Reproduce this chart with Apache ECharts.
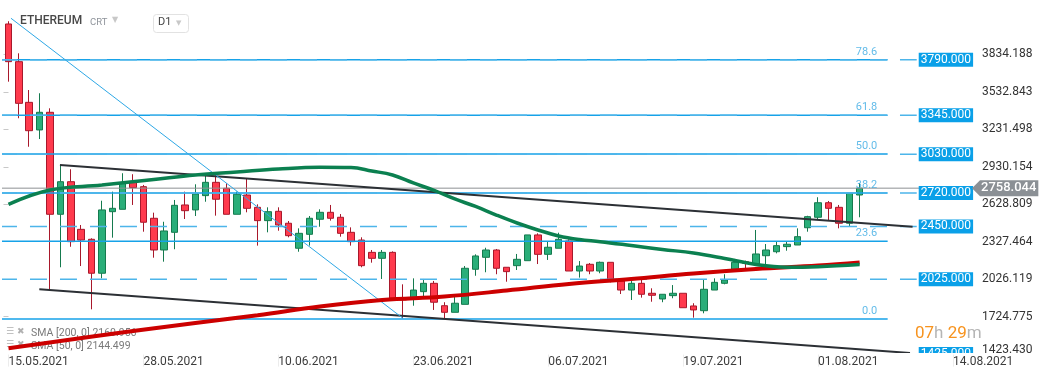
<!DOCTYPE html>
<html>
<head>
<meta charset="utf-8">
<script src="https://cdn.jsdelivr.net/npm/echarts@6/dist/echarts.min.js"></script>
<style>
html,body{margin:0;padding:0;background:#fff;}
#chart{width:1041px;height:379px;}
</style>
</head>
<body>
<div id="chart"></div>
<script>
// ---------- DATA ----------
const FIRST_DAY = [2021, 4, 15];   // 15.05.2021 (month 0-based)
const DAY_COUNT = 94;              // days shown on the axis
const xLabelStep = 13;

// daily candles: [open, close, low, high]
const candles = [
 [4078,3775,3614,4100],[3775,3440,3320,3842],[3448,3220,3091,3547],[3226,3368,3153,3521],
 [3368,2548,1945,3400],[2548,2810,2122,2944],[2810,2328,2287,2910],[2427,2341,2132,2462],
 [2347,2074,1784,2355],[2074,2583,2033,2657],[2569,2596,2360,2730],[2588,2797,2588,2878],
 [2805,2762,2623,2870],[2770,2484,2408,2784],[2516,2261,2199,2561],[2261,2414,2167,2488],
 [2403,2620,2267,2663],[2623,2577,2510,2730],[2583,2711,2534,2789],[2698,2805,2649,2858],
 [2805,2669,2537,2877],[2757,2548,2548,2797],[2548,2709,2548,2730],[2703,2596,2564,2837],
 [2604,2497,2296,2628],[2497,2569,2403,2604],[2572,2462,2416,2604],[2476,2376,2363,2494],
 [2275,2395,2247,2435],[2387,2516,2296,2534],[2508,2564,2448,2588],[2564,2516,2497,2623],
 [2524,2395,2368,2550],[2403,2328,2296,2443],[2341,2135,2122,2363],[2242,2194,2159,2261],
 [2194,2242,2028,2261],[2242,1873,1873,2250],[1873,1860,1712,1985],[1867,1939,1813,2033],
 [1926,1993,1886,2028],[1993,1841,1779,2012],[1813,1760,1706,1841],[1760,1833,1760,1886],
 [1824,2114,1824,2132],[2106,2213,2054,2226],[2202,2261,2082,2279],[2261,2114,2066,2269],
 [2122,2087,2006,2122],[2135,2186,2100,2229],[2175,2382,2175,2382],[2382,2226,2148,2395],
 [2226,2283,2181,2328],[2275,2347,2275,2400],[2333,2092,2092,2347],[2092,2132,2039,2172],
 [2146,2092,2066,2156],[2092,2162,2074,2168],[2162,2020,2001,2162],[2012,1939,1907,2020],
 [1939,1993,1859,2020],[1993,1905,1878,2020],[1913,1897,1845,1953],[1867,1905,1841,1905],
 [1894,1913,1873,1979],[1913,1797,1797,1913],[1811,1779,1717,1833],[1773,1945,1752,2020],
 [1939,2001,1939,2033],[1993,2020,1985,2066],[2106,2162,2106,2189],[2167,2154,2094,2175],
 [2148,2229,2148,2422],[2215,2261,2141,2309],[2247,2296,2234,2328],[2288,2307,2255,2333],
 [2301,2368,2301,2435],[2440,2529,2408,2536],[2524,2641,2508,2685],[2641,2596,2502,2655],
 [2604,2476,2435,2623],[2476,2717,2454,2717],[2703,2758.044,2524,2800]
];
const lastPrice = 2758.044;

// moving averages read at candle indexes: [index, value]
const sma50 = [[0,2628],[4,2743],[9,2783],[14,2828],[18,2864],[22,2888],[26,2912],[30,2926],
 [33,2924],[35,2896],[37,2864],[39,2800],[41,2740],[43,2671],[45,2611],[47,2542],[49,2478],
 [51,2422],[53,2374],[55,2345],[57,2328],[60,2297],[63,2265],[66,2237],[69,2193],[72,2144],
 [75,2122],[78,2127],[82,2144.499]];
const sma200 = [[0,1471],[12,1610],[24,1737],[30,1807],[36,1859],[42,1887],[48,1935],[54,1988],
 [60,2028],[66,2072],[72,2108],[78,2136],[82,2160.956]];
const sma50Last = '2144.499';
const sma200Last = '2160.956';

// drawn trend lines: [candle index, price]
const upperChannel = [[4.96,2944],[87.1,2448]];
const lowerChannel = [[2.97,1945],[86.85,1433]];
const fallingLine  = [[0.24,4124],[38.0,1712]];

// horizontal levels
const levelPrices = [3790, 3345, 3030, 2720, 2450, 2025, 1425];
const levelSpan = [-0.82, 87.5];
const fibNames  = ['0.0','23.6','38.2','50.0','61.8','78.6'];
const fibPrices = [1706, 2331.7, 2718.8, 3031.7, 3344.6, 3790];
const fibSpan = [-0.82, 84.7];
const fibLabelAt = 83.75;

const yTicks = [1423.430, 1724.775, 2026.119, 2327.464, 2628.809, 2930.154, 3231.498, 3532.843, 3834.188];

// ---------- BUILD ----------
const pad = n => (n < 10 ? '0' : '') + n;
const dates = [];
for (let i = 0; i < DAY_COUNT; i++) {
  const d = new Date(Date.UTC(FIRST_DAY[0], FIRST_DAY[1], FIRST_DAY[2] + i));
  dates.push(pad(d.getUTCDate()) + '.' + pad(d.getUTCMonth() + 1) + '.' + d.getUTCFullYear());
}

const FONT = 'Roboto';
const series = [];

series.push({
  type: 'candlestick', name: 'ETHEREUM', data: candles, barWidth: 7, z: 2,
  itemStyle: { color: '#2aae79', color0: '#ff3a4d', borderColor: '#157a4e', borderColor0: '#a8182b', borderWidth: 1 }
});

// fib lines
fibPrices.forEach((p, k) => {
  series.push({
    type: 'line', xAxisIndex: 1, data: [[fibSpan[0], p], [fibSpan[1], p]], symbol: 'none', clip: false,
    lineStyle: { color: '#16a2e8', width: 1.5 }, silent: true, z: 3, animation: false
  });
});
series.push({
  type: 'scatter', xAxisIndex: 1, symbolSize: 1, itemStyle: { color: 'rgba(0,0,0,0)' }, z: 4, silent: true,
  data: fibPrices.map((p, k) => [fibLabelAt, p, fibNames[k]]),
  label: { show: true, position: [0, 0], align: 'right', verticalAlign: 'bottom', offset: [0, -2],
    formatter: pr => pr.value[2], color: '#3aaae3', fontSize: 11, fontFamily: FONT }
});

// dashed levels with value boxes
levelPrices.forEach(p => {
  series.push({
    type: 'line', xAxisIndex: 1, data: [[levelSpan[0], p], [levelSpan[1], p]], symbol: 'none', clip: false,
    lineStyle: { color: '#4db5ea', width: 1.5, type: [17, 13] }, silent: true, z: 3, animation: false,
    endLabel: { show: true, formatter: () => p.toFixed(3), backgroundColor: '#0aa0e8', color: '#fff',
      fontSize: 12, fontFamily: FONT, padding: [1, 2, 0, 2], distance: 2, lineHeight: 13 }
  });
});

// current price line
series.push({
  type: 'line', xAxisIndex: 1, data: [[-0.82, lastPrice], [93.5, lastPrice]], symbol: 'none', clip: false,
  lineStyle: { color: '#8e9194', width: 1 }, silent: true, z: 3, animation: false,
  endLabel: { show: true, formatter: () => lastPrice.toFixed(3), backgroundColor: '#8b9095', color: '#fff',
    fontSize: 13, fontWeight: 500, fontFamily: FONT, padding: [2, 2, 1, 1], distance: 1 }
});

// trend lines
[[upperChannel, '#2c3035', 2], [lowerChannel, '#2c3035', 2], [fallingLine, '#2ea8e6', 1]].forEach(([d, c, w]) => {
  series.push({ type: 'line', xAxisIndex: 1, data: d, symbol: 'none', clip: false,
    lineStyle: { color: c, width: w }, silent: true, z: 5, animation: false });
});

// moving averages
series.push({ type: 'line', xAxisIndex: 1, data: sma200, symbol: 'none', smooth: 0.4,
  lineStyle: { color: '#cc0000', width: 4 }, z: 6, silent: true, animation: false });
series.push({ type: 'line', xAxisIndex: 1, data: sma50, symbol: 'none', smooth: 0.4,
  lineStyle: { color: '#0b8050', width: 3.5 }, z: 6, silent: true, animation: false });

const chart = echarts.init(document.getElementById('chart'), null, { renderer: 'canvas' });
chart.setOption({
  animation: false,
  backgroundColor: '#ffffff',
  textStyle: { fontFamily: FONT },
  grid: { left: 3.3, top: 0, width: 975.7, height: 354.6 },
  xAxis: [
    { type: 'category', data: dates, boundaryGap: true, z: 10,
      axisLine: { show: false },
      axisTick: { show: true, alignWithLabel: true, interval: xLabelStep - 1, length: 12, lineStyle: { color: '#ececec' } },
      axisLabel: { interval: xLabelStep - 1, align: 'left', margin: 1, color: '#3c3c3c', fontSize: 12, fontFamily: FONT },
      splitLine: { show: false } },
    { type: 'value', min: -0.5, max: 93.5, show: false }
  ],
  yAxis: {
    type: 'value', position: 'right', min: 1420, max: 4270.7,
    splitLine: { show: false }, axisLine: { show: false },
    axisTick: { show: true, inside: true, length: 5, lineStyle: { color: '#c8c8c8' }, customValues: yTicks },
    axisLabel: { customValues: yTicks, margin: 3, color: '#333', fontSize: 12, fontFamily: FONT,
      formatter: v => Math.abs(v - 1423.43) < 0.01 ? '{lo|' + v.toFixed(3) + '}' : v.toFixed(3),
      rich: { lo: { padding: [0, 0, 8, 0], color: '#333', fontSize: 12, fontFamily: FONT } } }
  },
  series: series,
  graphic: [
    { id: 'title', type: 'text', left: 20, top: 15, z: 20, style: { text: 'ETHEREUM', fill: '#484848', font: '500 12px Roboto' } },
    { id: 'crt', type: 'text', left: 90, top: 18, z: 20, style: { text: 'CRT', fill: '#8f949b', font: '9.5px Roboto' } },
    { id: 'crtArrow', type: 'text', left: 112, top: 16, z: 20, style: { text: '▼', fill: '#c8c8c8', font: '8px DejaVu Sans' } },
    { id: 'tfBox', type: 'rect', left: 153, top: 14, z: 20, shape: { width: 35, height: 18, r: 3 }, style: { fill: '#fff', stroke: '#e2e2e2', lineWidth: 1 } },
    { id: 'tf', type: 'text', left: 158, top: 17, z: 21, style: { text: 'D1', fill: '#444', font: '11px Roboto' } },
    { id: 'tfArrow', type: 'text', left: 176, top: 20, z: 21, style: { text: '▼', fill: '#c8c8c8', font: '7px DejaVu Sans' } },
    { id: 'ic1', type: 'text', left: 6, top: 327, z: 0, style: { text: '☰ ✖', fill: '#b0b0b0', font: '9px DejaVu Sans' } },
    { id: 'lg1', type: 'text', left: 31, top: 328, z: 0, style: { text: 'SMA [200, 0] ' + sma200Last, fill: '#7a7a7a', font: '10.5px Roboto' } },
    { id: 'ic2', type: 'text', left: 6, top: 340, z: 0, style: { text: '☰ ✖', fill: '#b0b0b0', font: '9px DejaVu Sans' } },
    { id: 'lg2', type: 'text', left: 31, top: 341, z: 0, style: { text: 'SMA [50, 0] ' + sma50Last, fill: '#7a7a7a', font: '10.5px Roboto' } },
    { id: 'timer', type: 'text', left: 915, top: 325, z: 20, style: { text: '{o|07}{g|h }{o|29}{g|m}', font: '17px Roboto',
      rich: { o: { fill: '#f7931e', font: '17px Roboto' }, g: { fill: '#b5b5b5', font: '17px Roboto' } } } },
    { id: 'cover', type: 'rect', left: 0, top: 353, z: 8, shape: { width: 978, height: 9 }, style: { fill: '#fff' } }
  ]
});

// arrow tip of the current-price tag, placed at the price through the axis scale
const py = chart.convertToPixel({ yAxisIndex: 0 }, lastPrice);
const px = chart.convertToPixel({ xAxisIndex: 1 }, 93.5);
chart.setOption({ graphic: [{ id: 'priceArrow', type: 'polygon', z: 20, silent: true,
  shape: { points: [[px - 7, py], [px + 1, py - 8], [px + 1, py + 8]] }, style: { fill: '#8b9095' } }] });
</script>
</body>
</html>
